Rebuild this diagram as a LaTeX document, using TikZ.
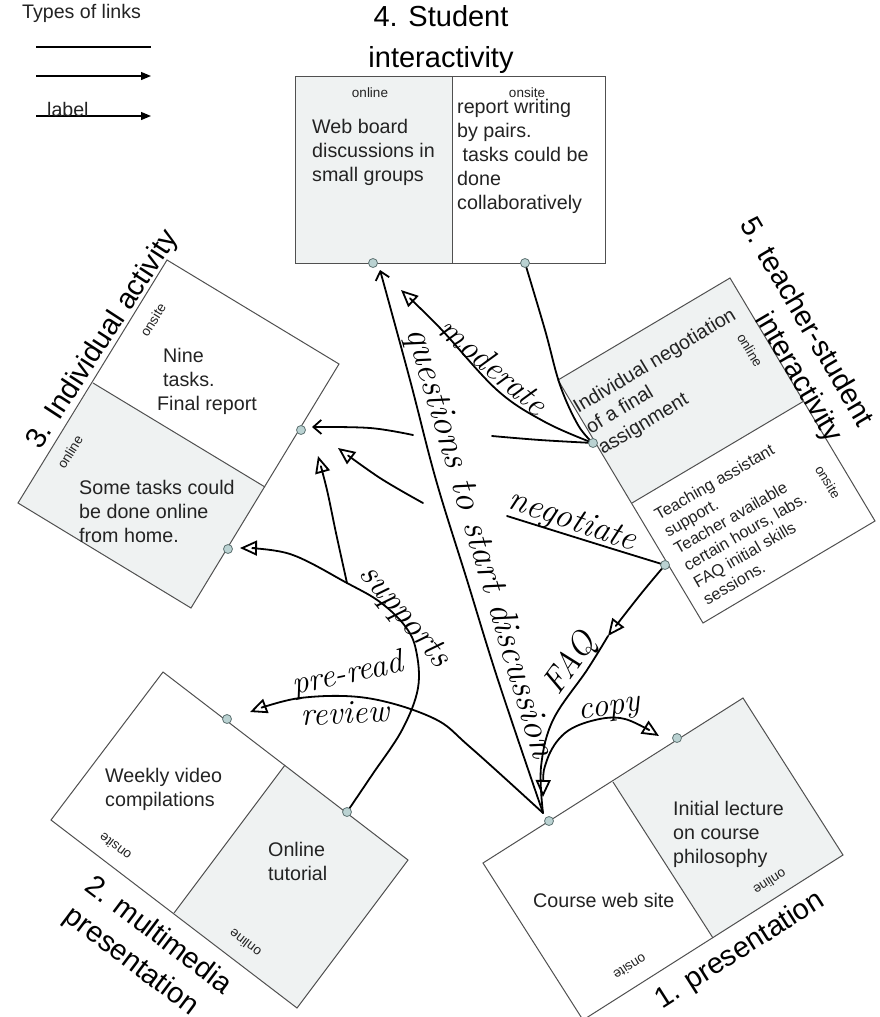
\documentclass[tikz,border=0pt]{standalone}
\usepackage{fontspec}
\newfontfamily\arialfont{Liberation Sans}
\usetikzlibrary{arrows.meta}
\pgfdeclarelayer{front}
\pgfsetlayers{main,front}
\definecolor{onfill}{RGB}{239,242,242}
\definecolor{portfill}{RGB}{186,210,210}
\definecolor{portline}{RGB}{95,115,115}
\definecolor{boxline}{RGB}{80,80,80}
\definecolor{txt}{RGB}{35,35,35}
\tikzset{
  boxedge/.style={draw=boxline, line width=1pt, line join=miter},
  onlinepart/.style={fill=onfill},
  port/.style={circle, draw=portline, fill=portfill, line width=0.8pt, minimum size=9pt, inner sep=0pt},
  body/.style={font=\arialfont\fontsize{19.7}{24}\selectfont, text=txt, inner sep=0pt, align=left},
  smallbody/.style={font=\arialfont\fontsize{16.4}{19.5}\selectfont, text=txt, inner sep=0pt, align=left},
  tag/.style={font=\arialfont\fontsize{13.5}{14}\selectfont, text=txt, inner sep=0pt},
  heading/.style={font=\arialfont\fontsize{29}{33}\selectfont, text=black, inner sep=0pt},
  legendtext/.style={font=\arialfont\fontsize{19.6}{22}\selectfont, text=txt, inner sep=0pt},
  legline/.style={line width=1.2pt, draw=black},
  hand/.style={line width=1.8pt, line cap=round, line join=round},
  htip/.style={-{Triangle[open, length=17pt, width=15pt]}},
  barbtip/.style={-{Straight Barb[length=8pt, width=14pt]}},
  handlabel/.style={font=\itshape\fontsize{#1}{#1}\selectfont, inner sep=0pt},
  handlabel/.default=34,
}
\begin{document}
\begin{tikzpicture}[x=1pt, y=-1pt]
\path[use as bounding box, fill=white] (0,0) rectangle (880,1017);

% ---------- boxes ----------
% Box 4
\fill[onlinepart] (295,76) rectangle (452,263);
\draw[boxedge] (295,76) rectangle (605,263);
\draw[boxedge] (452,76) -- (452,263);
% Box 3
\fill[onlinepart] (93,383) -- (265,487) -- (191,608) -- (18,503) -- cycle;
\draw[boxedge] (167,260) -- (339,364) -- (191,608) -- (18,503) -- cycle;
\draw[boxedge] (93,383) -- (265,487);
% Box 5
\fill[onlinepart] (558,380) -- (730,278) -- (804,401) -- (632,503) -- cycle;
\draw[boxedge] (558,380) -- (730,278) -- (875,521) -- (703,623) -- cycle;
\draw[boxedge] (632,503) -- (804,401);
% Box 2
\fill[onlinepart] (285,765) -- (408,860) -- (297,1008) -- (174,913) -- cycle;
\draw[boxedge] (163,672) -- (408,860) -- (297,1008) -- (51,820) -- cycle;
\draw[boxedge] (285,765) -- (174,913);
% Box 1
\fill[onlinepart] (613,782) -- (743,698) -- (843,855) -- (713,938) -- cycle;
\draw[boxedge] (483,863) -- (743,698) -- (843,855) -- (583,1020) -- cycle;
\draw[boxedge] (613,782) -- (713,938);

% ---------- box texts ----------
\node[tag] (t4on) at (370,93) {online};
\node[tag] (t4os) at (527,93) {onsite};
\node[body, anchor=west] (b4on) at (312,152) {Web board\\discussions in\\small groups};
\node[body, anchor=west] (b4os) at (457,156) {report writing\\by pairs.\\\ tasks could be\\done\\collaboratively};

\node[tag, rotate=58] (t3os) at (153,320) {onsite};
\node[tag, rotate=58] (t3on) at (70,452) {online};
\node[body, anchor=west] (b3os) at (157,381) {\hspace{6pt}Nine\\\hspace{6pt}tasks.\\Final report};
\node[body, anchor=west] (b3on) at (79,511) {Some tasks could\\be done online\\from home.};

\node[tag, rotate=-59] (t5on) at (750,350) {online};
\node[tag, rotate=-59] (t5os) at (828,482) {onsite};
\node[body, rotate=31, anchor=west] (b5on) at (588,430) {Individual negotiation\\of a final\\assignment};
\node[smallbody, rotate=30, anchor=west] (b5os) at (680,558) {Teaching assistant\\support.\\Teacher available\\certain hours, labs.\\FAQ initial skills\\sessions.};

\node[tag, rotate=143] (t2os) at (115,847) {onsite};
\node[tag, rotate=143] (t2on) at (245,943) {online};
\node[body, anchor=west] (b2os) at (105,789) {Weekly video\\compilations};
\node[body, anchor=west] (b2on) at (268,861) {Online\\tutorial};

\node[tag, rotate=212.4] (t1on) at (770,882) {online};
\node[tag, rotate=212.4] (t1os) at (630,967) {onsite};
\node[body, anchor=west] (b1on) at (673,834) {Initial lecture\\on course\\philosophy};
\node[body, anchor=west] (b1os) at (533,900) {Course web site};

% ---------- headings ----------
\node[heading, anchor=base] (h4a) at (441,27) {4. Student};
\node[heading, anchor=base] (h4b) at (441,67) {interactivity};
\node[heading, rotate=57] (h3) at (103,340) {3. Individual activity};
\node[heading, rotate=-59.5] (h5a) at (808,321) {5. teacher-student};
\node[heading, rotate=-59.5] (h5b) at (798,378) {interactivity};
\node[heading, rotate=-37] (h2a) at (160,934) {2. multimedia};
\node[heading, rotate=-37] (h2b) at (131,962) {presentation};
\node[heading, rotate=32.5] (h1) at (740,951) {1. presentation};

% ---------- legend ----------
\node[legendtext, anchor=west] (legtitle) at (22,13) {Types of links};
\coordinate (la1) at (36,47); \coordinate (lb1) at (151,47);
\coordinate (la2) at (36,76); \coordinate (lb2) at (151,76);
\coordinate (la3) at (36,116); \coordinate (lb3) at (151,116);
\draw[legline] (la1) -- (lb1);
\draw[legline, -{Triangle[length=10pt, width=8pt]}] (la2) -- (lb2);
\draw[legline, -{Triangle[length=10pt, width=8pt]}] (la3) -- (lb3);
\node[legendtext, anchor=base west] (leglabel) at (47,116) {label};

% ---------- ports ----------
\begin{pgfonlayer}{front}
\node[port] (P4a) at (373,263) {};
\node[port] (P4b) at (525,263) {};
\node[port] (P3a) at (301,430) {};
\node[port] (P3b) at (228,549) {};
\node[port] (P5a) at (593,443) {};
\node[port] (P5b) at (665,565) {};
\node[port] (P2a) at (227,719) {};
\node[port] (P2b) at (347,812) {};
\node[port] (P1a) at (549,821) {};
\node[port] (P1b) at (677,738) {};
\end{pgfonlayer}

% ---------- hand-drawn connectors ----------
\coordinate (hub) at (543,813);
\coordinate (qtip) at (380,270);
\coordinate (mtip) at (401,290);
\coordinate (d1) at (492,436);
\coordinate (d2) at (413,435);
\coordinate (dtip) at (312,427);
\coordinate (e1) at (507,516);
\coordinate (e2) at (423,503);
\coordinate (etip) at (338,448);
\coordinate (ftip) at (240,548);
\coordinate (fb) at (347,583);
\coordinate (fbtip) at (318,456);
\coordinate (gtip) at (250,712);
\coordinate (hmid) at (608,636);
\coordinate (ctail) at (543,797);
\coordinate (cend) at (659,736);

% questions to start discussion
\draw[hand, barbtip] plot[smooth, tension=0.6] coordinates {(hub) (498,680) (467,580) (436,480) (410,380) (qtip)};
% moderate
\draw[hand, htip] plot[smooth, tension=0.6] coordinates {(P5a) (545,422) (497,390) (440,328) (mtip)};
% student onsite -> teacher-student
\draw[hand] plot[smooth, tension=0.6] coordinates {(P4b) (545,330) (560,385) (578,425) (P5a)};
% teacher-student -> individual (unlabelled)
\draw[hand] plot[smooth, tension=0.6] coordinates {(P5a) (540,440) (d1)};
\draw[hand, barbtip] plot[smooth, tension=0.6] coordinates {(d2) (370,428) (dtip)};
% negotiate
\draw[hand] plot[smooth, tension=0.6] coordinates {(P5b) (600,545) (e1)};
\draw[hand, htip] plot[smooth, tension=0.6] coordinates {(e2) (380,478) (etip)};
% supports
\draw[hand, htip] plot[smooth, tension=0.6] coordinates {(P2b) (372,775) (402,730) (418,688) (416,650) (405,626) (380,602) (fb) (290,554) (ftip)};
\draw[hand, htip] plot[smooth, tension=0.6] coordinates {(fb) (336,533) (327,490) (fbtip)};
% pre-read / review
\draw[hand, htip] plot[smooth, tension=0.6] coordinates {(hub) (470,747) (433,718) (367,698) (300,698) (gtip)};
% FAQ
\draw[hand, htip] plot[smooth, tension=0.6] coordinates {(P5b) (640,595) (hmid)};
\draw[hand] plot[smooth, tension=0.6] coordinates {(hmid) (587,670) (553,720) (541,767) (hub)};
% copy
\draw[hand, {Triangle[open, length=17pt, width=15pt]}-{Triangle[open, length=17pt, width=15pt]}] plot[smooth, tension=0.6] coordinates {(ctail) (547,760) (565,733) (595,720) (625,719) (cend)};

% ---------- handwritten labels ----------
\node[handlabel=37, rotate=-73.4] (lq) at (479,543) {questions to start discussion};
\node[handlabel=34, rotate=-40] (lm) at (494,366) {moderate};
\node[handlabel=35, rotate=-19] (ln) at (572,522) {negotiate};
\node[handlabel=35, rotate=-50] (ls) at (404,617) {supports};
\node[handlabel=33, rotate=12] (lp) at (348,675) {pre-read};
\node[handlabel=33, rotate=3] (lr) at (345,713) {review};
\node[handlabel=34, rotate=54] (lf) at (571,664) {FAQ};
\node[handlabel=33, rotate=8] (lc) at (610,711) {copy};
\end{tikzpicture}
\end{document}
